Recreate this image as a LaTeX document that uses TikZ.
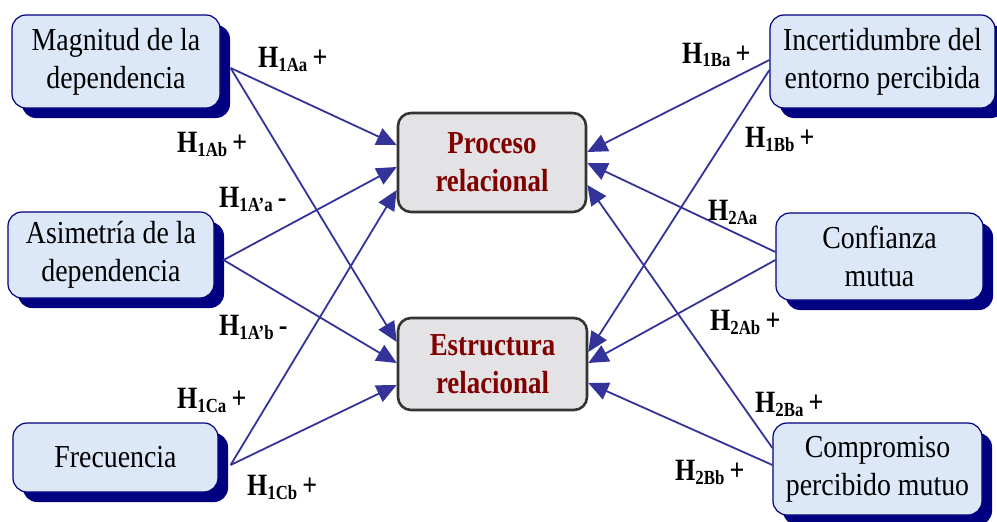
\documentclass[tikz,border=0pt]{standalone}
\usepackage{fontspec}
\setmainfont{Liberation Serif}
\newfontfamily\condfont[FakeStretch=0.87]{Liberation Serif}
\newfontfamily\narrowfont[FakeStretch=0.84]{Liberation Serif}
\usetikzlibrary{arrows.meta,calc,shadows}

\definecolor{navy}{HTML}{000080}
\definecolor{boxblue}{HTML}{DCE7F7}
\definecolor{linecol}{HTML}{333399}
\definecolor{darkred}{HTML}{800000}
\definecolor{centerfill}{HTML}{E3E3E5}
\definecolor{centerdraw}{HTML}{333333}

\newcommand{\hlab}[2]{\narrowfont\fontsize{31}{31}\selectfont\bfseries H\raisebox{-4pt}{\fontsize{20}{20}\selectfont\bfseries #1}\,#2}

\tikzset{
  srcbox/.style={draw=navy, line width=1.2pt, fill=boxblue, rounded corners=14pt,
    align=center, inner sep=0pt, font=\condfont\fontsize{32}{38}\selectfont,
    general shadow={fill=navy, shadow xshift=10pt, shadow yshift=-10pt}},
  midbox/.style={draw=centerdraw, line width=2.6pt, fill=centerfill, rounded corners=13pt,
    align=center, inner sep=0pt, text=darkred,
    font=\narrowfont\fontsize{32}{38}\selectfont\bfseries},
  hyplab/.style={anchor=base west, inner sep=0pt},
  link/.style={draw=linecol, line width=1.8pt, -{Triangle[length=20pt,width=18pt]}}
}

\begin{document}
\begin{tikzpicture}[x=1pt,y=-1pt]
\useasboundingbox (0,0) rectangle (997,522);

% source boxes
\node[srcbox, minimum width=208pt, minimum height=93pt] (mag) at (116,61.5) {Magnitud de la\\dependencia};
\node[srcbox, minimum width=206pt, minimum height=86pt] (asi) at (111,255) {Asimetría de la\\dependencia};
\node[srcbox, minimum width=205pt, minimum height=69pt] (fre) at (115.5,457.5) {Frecuencia};
\node[srcbox, minimum width=225pt, minimum height=93pt] (inc) at (882.5,61.5) {Incertidumbre del\\entorno percibida};
\node[srcbox, minimum width=207pt, minimum height=87pt] (conf) at (879.5,256.5) {Confianza\\mutua};
\node[srcbox, minimum width=209pt, minimum height=92pt] (comp) at (877.5,469) {Compromiso\\percibido mutuo};

% central boxes
\node[midbox, minimum width=188pt, minimum height=99pt] (proc) at (492,162.5) {Proceso\\relacional};
\node[midbox, minimum width=189pt, minimum height=92pt] (estr) at (492.5,364) {Estructura\\relacional};

% connectors
\draw[link] ([xshift=10pt,yshift=-6.5pt]mag.east) -- ([yshift=17.5pt]proc.west);
\draw[link] ([xshift=10pt,yshift=-6.5pt]mag.east) -- ([yshift=22pt]estr.west);
\draw[link] ([xshift=9pt,yshift=-5pt]asi.east) -- ([yshift=-4.5pt]proc.west);
\draw[link] ([xshift=9pt,yshift=-5pt]asi.east) -- ([yshift=1pt]estr.west);
\draw[link] ([xshift=12pt,yshift=-7.5pt]fre.east) -- ([yshift=-27.5pt]proc.west);
\draw[link] ([xshift=12pt,yshift=-7.5pt]fre.east) -- ([yshift=-21pt]estr.west);

\draw[link] ([yshift=1.5pt]inc.west) -- ([yshift=10.5pt]proc.east);
\draw[link] ([yshift=-8.5pt]inc.west) -- ([yshift=12pt]estr.east);
\draw[link] ([yshift=4.5pt]conf.west) -- ([yshift=-0.5pt]proc.east);
\draw[link] ([yshift=-3.5pt]conf.west) -- ([yshift=1pt]estr.east);
\draw[link] ([yshift=21pt]comp.west) -- ([yshift=-22.5pt]proc.east);
\draw[link] ([yshift=4pt]comp.west) -- ([yshift=-19pt]estr.east);

% hypothesis labels
\node[hyplab] (l1) at (258,67) {\hlab{1Aa}{+}};
\node[hyplab] (l2) at (177,152) {\hlab{1Ab}{+}};
\node[hyplab] (l3) at (219,207) {\hlab{1A’a}{-}};
\node[hyplab] (l4) at (219,335) {\hlab{1A’b}{-}};
\node[hyplab] (l5) at (177,408) {\hlab{1Ca}{+}};
\node[hyplab] (l6) at (247,495) {\hlab{1Cb}{+}};
\node[hyplab] (l7) at (682,63) {\hlab{1Ba}{+}};
\node[hyplab] (l8) at (745,147) {\hlab{1Bb}{+}};
\node[hyplab] (l9) at (708,220) {\hlab{2Aa}{}};
\node[hyplab] (l10) at (710,330) {\hlab{2Ab}{+}};
\node[hyplab] (l11) at (755,412) {\hlab{2Ba}{+}};
\node[hyplab] (l12) at (675,480) {\hlab{2Bb}{+}};
\end{tikzpicture}
\end{document}
